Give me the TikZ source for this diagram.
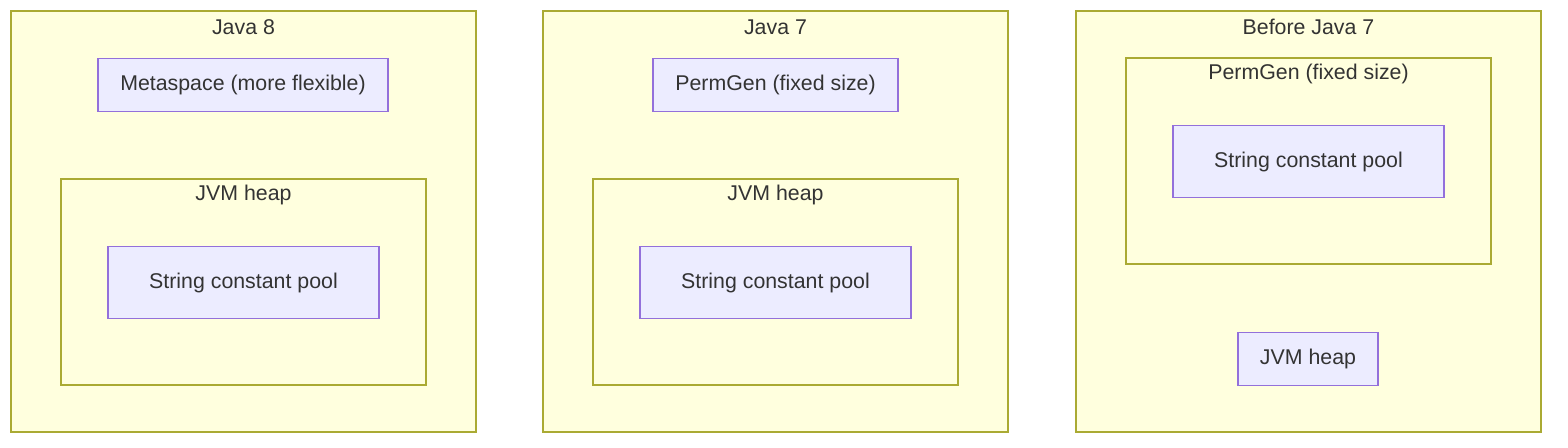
\documentclass[tikz,border=0pt]{standalone}
\usepackage{fontspec}
\setmainfont{Liberation Sans}
\definecolor{sgfill}{HTML}{FFFFDE}
\definecolor{sgline}{HTML}{AAAA33}
\definecolor{ndfill}{HTML}{ECECFF}
\definecolor{ndline}{HTML}{9370DB}
\definecolor{txt}{HTML}{333333}
\tikzset{
  sg/.style={draw=sgline, fill=sgfill, line width=0.9pt, inner sep=0pt, rectangle},
  nd/.style={draw=ndline, fill=ndfill, line width=0.9pt, inner sep=0pt, rectangle,
    text=txt, font=\fontsize{16}{19}\selectfont},
  ttl/.style={text=txt, font=\fontsize{16}{19}\selectfont, inner sep=0pt},
  outer/.style={sg, minimum width=348.75pt, minimum height=315.75pt},
  inner/.style={sg, minimum width=273.75pt, minimum height=154.5pt},
  scp/.style={nd, minimum width=203.25pt, minimum height=54pt},
}
\begin{document}
\begin{tikzpicture}[x=0.75pt, y=-0.75pt]
\useasboundingbox (0,0) rectangle (1568,448);
% Java 8
\node[outer] (o1) at (243.5,221.5) {};
\node[ttl] (t1) at (243.5,27) {Java 8};
\node[nd, minimum width=217.5pt, minimum height=39.75pt] (meta) at (243,85) {Metaspace (more flexible)};
\node[inner] (h1) at (243.5,282) {};
\node[ttl] (ht1) at (243.5,195) {JVM heap};
\node[scp] (s1) at (243.5,282.5) {String constant pool};
% Java 7
\node[outer] (o2) at (775.5,221.5) {};
\node[ttl] (t2) at (775.5,27) {Java 7};
\node[nd, minimum width=183.75pt, minimum height=39.75pt] (pg2) at (775.5,85) {PermGen (fixed size)};
\node[inner] (h2) at (775.5,282) {};
\node[ttl] (ht2) at (775.5,195) {JVM heap};
\node[scp] (s2) at (775.5,282.5) {String constant pool};
% Before Java 7
\node[outer] (o3) at (1308.5,221.5) {};
\node[ttl] (t3) at (1308.5,27) {Before Java 7};
\node[inner] (pg3) at (1308.5,161) {};
\node[ttl] (pgt3) at (1308.5,74) {PermGen (fixed size)};
\node[scp] (s3) at (1308.5,161.5) {String constant pool};
\node[nd, minimum width=105pt, minimum height=39.75pt] (h3) at (1308,359) {JVM heap};
\end{tikzpicture}
\end{document}
